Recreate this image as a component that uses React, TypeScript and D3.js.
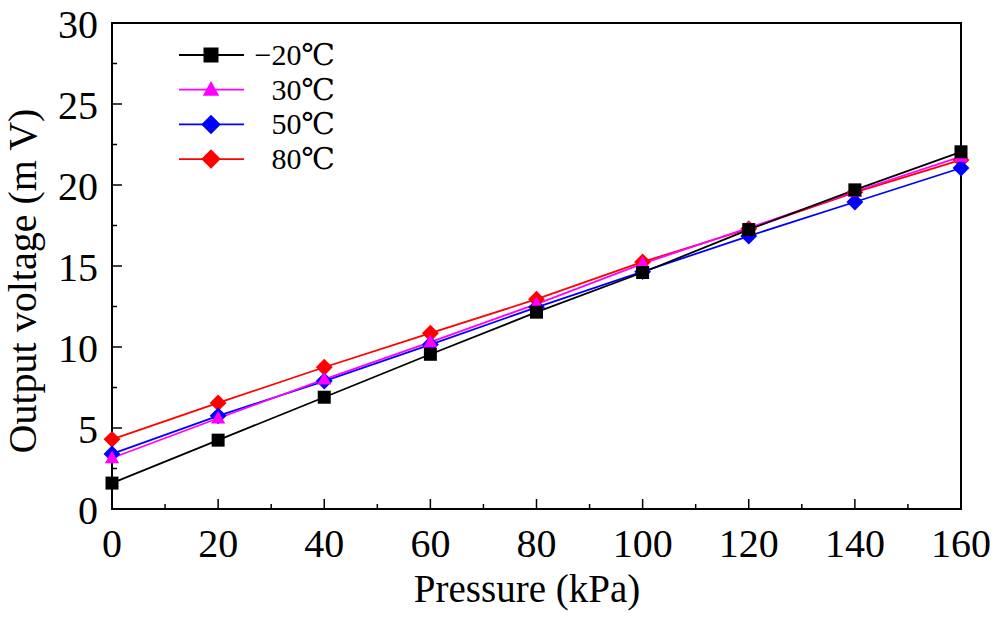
import React from 'react';
import * as d3 from 'd3';

const pressure = [0, 20, 40, 60, 80, 100, 120, 140, 160];
const vMinus20 = [1.6, 4.25, 6.9, 9.55, 12.15, 14.6, 17.25, 19.7, 22.05];
const v30 = [3.15, 5.6, 8.0, 10.3, 12.65, 15.15, 17.35, 19.6, 21.75];
const v50 = [3.4, 5.75, 7.9, 10.15, 12.45, 14.65, 16.85, 18.95, 21.05];
const v80 = [4.3, 6.55, 8.75, 10.85, 12.95, 15.25, 17.3, 19.55, 21.55];

const xTicks = [0, 20, 40, 60, 80, 100, 120, 140, 160];
const yTicks = [0, 5, 10, 15, 20, 25, 30];

type Marker = 'square' | 'triangle' | 'diamond';

interface Series {
  label: string;
  values: number[];
  color: string;
  marker: Marker;
}

const series: Series[] = [
  { label: '−20℃', values: vMinus20, color: '#000000', marker: 'square' },
  { label: '30℃', values: v30, color: '#ff00ff', marker: 'triangle' },
  { label: '50℃', values: v50, color: '#0000ff', marker: 'diamond' },
  { label: '80℃', values: v80, color: '#ff0000', marker: 'diamond' },
];

const W = 1000;
const H = 619;
const margin = { top: 23, right: 39, bottom: 110, left: 112 };
const FONT = '"Liberation Serif", "DejaVu Serif", serif';

// marker path centred at 0,0
function markerPath(kind: Marker, s: number): string {
  const h = s / 2;
  if (kind === 'square') return `M${-h},${-h}H${h}V${h}H${-h}Z`;
  if (kind === 'triangle') return `M0,${-h * 1.15}L${h * 1.1},${h * 0.8}L${-h * 1.1},${h * 0.8}Z`;
  const d = h * 1.3;
  return `M0,${-d}L${d},0L0,${d}L${-d},0Z`;
}

const App: React.FC = () => {
  const innerW = W - margin.left - margin.right;
  const innerH = H - margin.top - margin.bottom;

  const x = d3.scaleLinear().domain([0, 160]).range([0, innerW]);
  const y = d3.scaleLinear().domain([0, 30]).range([innerH, 0]);

  const line = d3
    .line<number>()
    .x((_, i) => x(pressure[i]))
    .y(d => y(d));

  const xMinor = d3.range(10, 160, 20);
  const yMinor = d3.range(2.5, 30, 5);

  // draw order: last series first so black ends on top
  const drawOrder = [...series].reverse();

  return (
    <svg
      width={W}
      height={H}
      style={{ position: 'absolute', left: 0, top: 0, background: '#fff' }}
      fontFamily={FONT}
    >
      <rect width={W} height={H} fill="#fff" />
      <g transform={`translate(${margin.left},${margin.top})`}>
        {/* frame */}
        <rect x={0} y={0} width={innerW} height={innerH} fill="none" stroke="#000" strokeWidth={2} />

        {/* x ticks */}
        {xTicks.map(t => (
          <line key={`xt${t}`} x1={x(t)} x2={x(t)} y1={innerH} y2={innerH - 10} stroke="#000" strokeWidth={1.5} />
        ))}
        {xMinor.map(t => (
          <line key={`xm${t}`} x1={x(t)} x2={x(t)} y1={innerH} y2={innerH - 5} stroke="#000" strokeWidth={1.5} />
        ))}
        {xTicks.map(t => (
          <text key={`xl${t}`} x={x(t)} y={innerH + 48} textAnchor="middle" fontSize={40} fill="#000">
            {t}
          </text>
        ))}

        {/* y ticks */}
        {yTicks.map(t => (
          <line key={`yt${t}`} x1={0} x2={10} y1={y(t)} y2={y(t)} stroke="#000" strokeWidth={1.5} />
        ))}
        {yMinor.map(t => (
          <line key={`ym${t}`} x1={0} x2={5} y1={y(t)} y2={y(t)} stroke="#000" strokeWidth={1.5} />
        ))}
        {yTicks.map(t => (
          <text key={`yl${t}`} x={-14} y={y(t) + 15} textAnchor="end" fontSize={40} fill="#000">
            {t}
          </text>
        ))}

        {/* series lines */}
        {drawOrder.map(s => (
          <path key={`ln${s.label}`} d={line(s.values) || ''} fill="none" stroke={s.color} strokeWidth={1.8} />
        ))}
        {/* series markers */}
        {drawOrder.map(s =>
          s.values.map((v, i) => (
            <path
              key={`mk${s.label}${i}`}
              d={markerPath(s.marker, 13)}
              transform={`translate(${x(pressure[i])},${y(v)})`}
              fill={s.color}
            />
          ))
        )}
      </g>

      {/* legend */}
      <g transform="translate(179,55)">
        {series.map((s, i) => (
          <g key={`lg${s.label}`} transform={`translate(0,${i * 34.7})`}>
            <line x1={0} x2={65} y1={0} y2={0} stroke={s.color} strokeWidth={1.8} />
            <path d={markerPath(s.marker, 15)} transform="translate(32,0)" fill={s.color} />
            <text x={156} y={10} textAnchor="end" fontSize={30} fill="#000">
              {s.label}
            </text>
          </g>
        ))}
      </g>

      {/* axis titles */}
      <text x={527} y={602} textAnchor="middle" fontSize={39} fill="#000">
        Pressure (kPa)
      </text>
      <text
        transform="translate(36,281) rotate(-90)"
        textAnchor="middle"
        fontSize={40}
        fill="#000"
      >
        Output voltage (m V)
      </text>
    </svg>
  );
};

export default App;
